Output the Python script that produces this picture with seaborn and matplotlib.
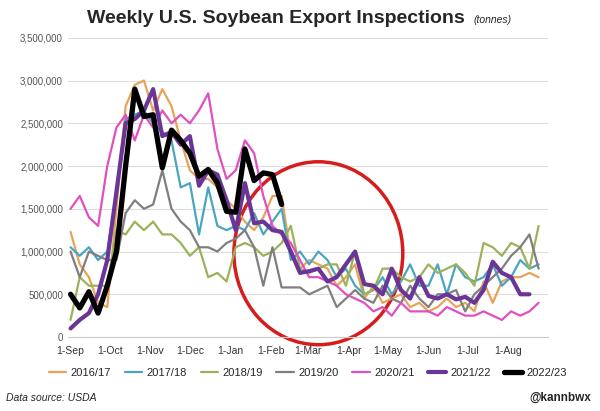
import seaborn as sns
import matplotlib.pyplot as plt
import pandas as pd
from matplotlib.patches import Ellipse

# weekly inspections, thousand tonnes
data = {
 '2016/17': [1230,850,700,400,350,1500,2700,2950,3000,2650,2900,2700,2300,1950,1850,1850,1750,1600,1500,1350,1250,1400,1650,1650,950,800,900,850,800,600,700,850,450,600,400,450,500,350,400,300,350,450,350,400,300,650,400,650,700,700,750,700],
 '2017/18': [1050,950,1050,900,1000,1700,2550,2600,2650,2500,2400,2300,1750,1800,1200,1750,1300,1250,1300,1250,1450,1200,1350,1500,900,1000,850,1000,900,700,800,600,500,550,700,500,650,850,600,600,850,500,850,700,650,700,850,600,700,900,800,850],
 '2018/19': [200,700,600,600,600,1250,1200,1350,1250,1350,1200,1200,1100,950,1050,700,750,650,1050,1100,1050,950,1000,1100,1300,800,750,800,850,850,600,1000,500,550,800,800,700,650,700,850,750,800,850,750,600,1100,1050,950,1100,1050,800,1300],
 '2019/20': [1000,700,1000,950,900,900,1450,1600,1500,1550,1950,1500,1350,1250,1050,1050,1000,1100,1150,1250,1050,600,1050,580,580,580,500,550,600,350,450,550,450,400,600,450,400,600,450,350,500,500,550,300,500,600,700,800,950,1050,1200,800],
 '2020/21': [1500,1650,1400,1300,2000,2450,2600,2300,2600,2450,2650,2500,2600,2500,2650,2850,2200,1850,1950,2300,2150,1650,1300,1200,1100,900,700,700,650,600,500,450,400,300,350,250,400,300,300,300,250,350,300,250,250,300,250,200,300,250,300,400],
 '2021/22': [100,200,280,500,900,1700,2500,2550,2650,2900,2350,2400,2250,2350,1770,1950,1900,1600,1250,1800,1330,1350,1250,1230,1000,750,770,800,650,700,850,1000,620,600,500,800,550,450,700,480,450,500,440,470,400,550,880,750,700,500,500],
 '2022/23': [500,340,530,280,600,1000,2000,2900,2580,2600,1980,2420,2300,2150,1880,1960,1800,1470,1460,2200,1830,1920,1900,1550],
}
colors = {'2016/17':'#e8a25a','2017/18':'#4aa6bf','2018/19':'#9bb25a','2019/20':'#7f7f7f',
          '2020/21':'#e050c0','2021/22':'#6a3596','2022/23':'#000000'}
widths = {'2021/22':3,'2022/23':3.8}

rows = []
for season, vals in data.items():
    for w, v in enumerate(vals):
        rows.append({'week': w, 'tonnes': v*1000, 'season': season})
df = pd.DataFrame(rows)

sns.set_style('white')
plt.rcParams['font.family'] = ['Liberation Sans', 'DejaVu Sans']
fig = plt.figure(figsize=(6, 4.11), dpi=100)
ax = fig.add_axes([0.113, 0.18, 0.80, 0.728])
for season in data:
    sub = df[df.season == season]
    sns.lineplot(data=sub, x='week', y='tonnes', color=colors[season], lw=widths.get(season, 1.6),
                 label=season, ax=ax)

ax.add_patch(Ellipse((27, 0.98e6), 18.4, 2.14e6, angle=0, fill=False, ec='#d61d1d', lw=2.5, clip_on=False))

ax.set_ylim(0, 3.5e6)
ax.set_xlim(-0.3, 52)
ax.set_yticks(range(0, 3500001, 500000))
ax.set_yticklabels([f'{v:,}' for v in range(0, 3500001, 500000)], fontsize=7, color='#555555')
months = ['1-Sep','1-Oct','1-Nov','1-Dec','1-Jan','1-Feb','1-Mar','1-Apr','1-May','1-Jun','1-Jul','1-Aug']
days = [0,30,61,91,122,153,181,212,242,273,303,334]
ax.set_xticks([d/7 for d in days])
ax.set_xticklabels(months, fontsize=7.5, color='#333333')
ax.grid(axis='y', color='#dddddd', lw=0.8)
ax.set_xlabel('')
ax.set_ylabel('')
for s in ['top', 'right', 'left']:
    ax.spines[s].set_visible(False)
ax.spines['bottom'].set_color('#cccccc')
ax.tick_params(axis='x', length=3, color='#cccccc')
ax.tick_params(axis='y', length=0)

ax.legend(loc='upper center', bbox_to_anchor=(0.5, -0.07), ncol=7, frameon=False,
          fontsize=8, handlelength=1.6, columnspacing=1.2, handletextpad=0.4)

fig.text(0.145, 0.945, 'Weekly U.S. Soybean Export Inspections', fontsize=14, fontweight='bold')
fig.text(0.79, 0.945, '(tonnes)', fontsize=7.5, style='italic')
fig.text(0.01, 0.025, 'Data source: USDA', fontsize=7.5, style='italic')
fig.text(0.985, 0.025, '@kannbwx', fontsize=8.5, fontweight='bold', ha='right')
fig.savefig('out.png')
